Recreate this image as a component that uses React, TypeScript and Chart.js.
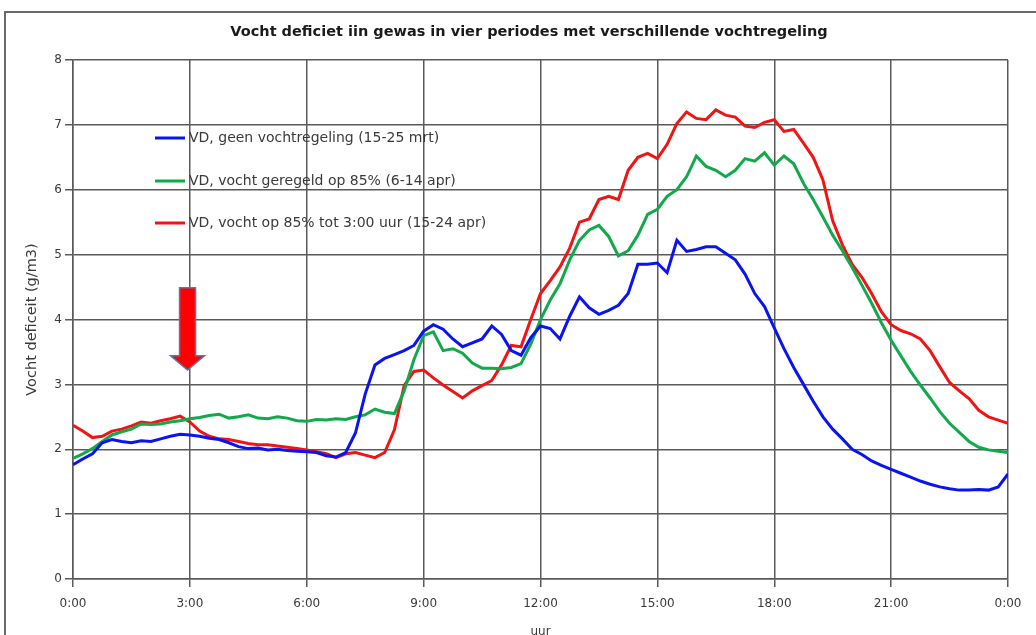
import React, { useEffect, useRef } from "react";
import { Chart, registerables } from "chart.js";

Chart.register(...registerables);

const chartTitle = "Vocht deficiet iin gewas in vier periodes met verschillende vochtregeling";
const yAxisTitle = "Vocht deficeit (g/m3)";
const xAxisTitle = "uur";
const xTickLabels = ["0:00", "3:00", "6:00", "9:00", "12:00", "15:00", "18:00", "21:00", "0:00"];
const seriesLabels = [
  "VD, geen vochtregeling (15-25 mrt)",
  "VD, vocht geregeld op 85% (6-14 apr)",
  "VD, vocht op 85% tot 3:00 uur (15-24 apr)",
];
const seriesColors = ["#0a14f0", "#12a84c", "#f01414"];

// time in hours
const hours = [
  0, 0.25, 0.5, 0.75, 1, 1.25, 1.5, 1.75, 2, 2.25, 2.5, 2.75,
  3, 3.25, 3.5, 3.75, 4, 4.25, 4.5, 4.75, 5, 5.25, 5.5, 5.75,
  6, 6.25, 6.5, 6.75, 7, 7.25, 7.5, 7.75, 8, 8.25, 8.5, 8.75,
  9, 9.25, 9.5, 9.75, 10, 10.25, 10.5, 10.75, 11, 11.25, 11.5, 11.75,
  12, 12.25, 12.5, 12.75, 13, 13.25, 13.5, 13.75, 14, 14.25, 14.5, 14.75,
  15, 15.25, 15.5, 15.75, 16, 16.25, 16.5, 16.75, 17, 17.25, 17.5, 17.75,
  18, 18.25, 18.5, 18.75, 19, 19.25, 19.5, 19.75, 20, 20.25, 20.5, 20.75,
  21, 21.25, 21.5, 21.75, 22, 22.25, 22.5, 22.75, 23, 23.25, 23.5, 23.75,
  24,
];

const blueValues = [
  1.76, 1.85, 1.93, 2.1, 2.15, 2.12, 2.1, 2.13, 2.12, 2.16, 2.2, 2.23,
  2.22, 2.2, 2.17, 2.15, 2.1, 2.04, 2.01, 2.02, 1.99, 2.0, 1.98, 1.97,
  1.96, 1.95, 1.9, 1.88, 1.95, 2.25, 2.85, 3.3, 3.4, 3.46, 3.52, 3.6,
  3.82, 3.92, 3.85, 3.7, 3.58, 3.64, 3.7, 3.9, 3.77, 3.52, 3.45, 3.72,
  3.9, 3.86, 3.7, 4.05, 4.35, 4.18, 4.08, 4.14, 4.22, 4.4, 4.85, 4.85,
  4.87, 4.72, 5.22, 5.05, 5.08, 5.12, 5.12, 5.02, 4.92, 4.7, 4.4, 4.2,
  3.87, 3.55, 3.26, 3.0, 2.74, 2.5, 2.31, 2.16, 2.0, 1.92, 1.82, 1.75,
  1.69, 1.63, 1.57, 1.51, 1.46, 1.42, 1.39, 1.37, 1.37, 1.38, 1.37, 1.42,
  1.62,
];

const greenValues = [
  1.86, 1.93, 2.01, 2.12, 2.22, 2.27, 2.31, 2.39, 2.38, 2.39, 2.42, 2.44,
  2.47, 2.49, 2.52, 2.54, 2.48, 2.5, 2.53, 2.48, 2.47, 2.5, 2.48, 2.44,
  2.43, 2.46, 2.45, 2.47, 2.46, 2.5, 2.53, 2.62, 2.57, 2.55, 2.9, 3.38,
  3.75, 3.81, 3.52, 3.55, 3.48, 3.33, 3.25, 3.25, 3.24, 3.26, 3.32, 3.62,
  4.0, 4.3, 4.55, 4.92, 5.22, 5.38, 5.45, 5.28, 4.98, 5.06, 5.3, 5.62,
  5.7, 5.9, 6.0, 6.2, 6.52, 6.36, 6.3, 6.2, 6.3, 6.48, 6.44, 6.57,
  6.38, 6.52, 6.4, 6.1, 5.85, 5.58, 5.3, 5.06, 4.8, 4.53, 4.25, 3.95,
  3.68, 3.44, 3.2, 2.99, 2.79, 2.58, 2.4, 2.26, 2.12, 2.03, 1.99, 1.97,
  1.95,
];

const redValues = [
  2.37, 2.28, 2.18, 2.2, 2.28, 2.31, 2.36, 2.42, 2.4, 2.44, 2.47, 2.51,
  2.42, 2.28, 2.2, 2.16, 2.15, 2.12, 2.09, 2.07, 2.07, 2.05, 2.03, 2.01,
  1.99, 1.96, 1.93, 1.87, 1.93, 1.95, 1.91, 1.87, 1.95, 2.3, 2.98, 3.2,
  3.22, 3.1, 2.99, 2.89, 2.79, 2.9, 2.98, 3.06, 3.3, 3.6, 3.58, 4.0,
  4.4, 4.6, 4.81, 5.1, 5.5, 5.55, 5.85, 5.9, 5.85, 6.3, 6.5, 6.56,
  6.48, 6.7, 7.02, 7.2, 7.1, 7.08, 7.23, 7.15, 7.12, 6.98, 6.96, 7.04,
  7.08, 6.9, 6.93, 6.72, 6.5, 6.15, 5.52, 5.15, 4.85, 4.65, 4.4, 4.12,
  3.92, 3.83, 3.78, 3.7, 3.52, 3.27, 3.03, 2.9, 2.78, 2.6, 2.5, 2.45,
  2.4,
];

// arrow annotation (data units): hour, top value, head start value, tip value
const arrowAnnotation = { hour: 2.94, top: 4.49, headStart: 3.44, tip: 3.22 };

const FONT = "'DejaVu Sans', Verdana, sans-serif";
const TEXT_COLOR = "#3a3a3a";
const GRID_COLOR = "#5a5a5a";

const decorPlugin = {
  id: "decor",
  beforeDraw(chart: any) {
    const ctx = chart.ctx;
    ctx.save();
    ctx.fillStyle = "#ffffff";
    ctx.fillRect(0, 0, chart.width, chart.height);
    ctx.strokeStyle = "#6a6a6a";
    ctx.lineWidth = 2;
    ctx.strokeRect(5, 12, chart.width + 20, chart.height + 20);
    ctx.fillStyle = "#1a1a1a";
    ctx.font = `bold 14.5px ${FONT}`;
    ctx.textAlign = "center";
    ctx.textBaseline = "middle";
    ctx.fillText(chartTitle, 529, 32);
    ctx.restore();
  },
  afterDraw(chart: any) {
    const ctx = chart.ctx;
    const xs = chart.scales.x;
    const ys = chart.scales.y;
    ctx.save();
    // legend inside the plot
    const rowY = [138, 181, 223];
    chart.data.datasets.forEach((ds: any, i: number) => {
      const y = rowY[i];
      ctx.strokeStyle = ds.borderColor;
      ctx.lineWidth = 3;
      ctx.beginPath();
      ctx.moveTo(155, y);
      ctx.lineTo(185, y);
      ctx.stroke();
      ctx.fillStyle = TEXT_COLOR;
      ctx.font = `14px ${FONT}`;
      ctx.textAlign = "left";
      ctx.textBaseline = "middle";
      ctx.fillText(ds.label, 189, y);
    });
    // red arrow
    const cx = xs.getPixelForValue(arrowAnnotation.hour);
    const yTop = ys.getPixelForValue(arrowAnnotation.top);
    const yHead = ys.getPixelForValue(arrowAnnotation.headStart);
    const yTip = ys.getPixelForValue(arrowAnnotation.tip);
    ctx.beginPath();
    ctx.moveTo(cx - 8, yTop);
    ctx.lineTo(cx + 8, yTop);
    ctx.lineTo(cx + 8, yHead);
    ctx.lineTo(cx + 17, yHead);
    ctx.lineTo(cx, yTip);
    ctx.lineTo(cx - 17, yHead);
    ctx.lineTo(cx - 8, yHead);
    ctx.closePath();
    ctx.fillStyle = "#ff0000";
    ctx.fill();
    ctx.strokeStyle = "#5a78a8";
    ctx.lineWidth = 1.5;
    ctx.stroke();
    ctx.restore();
  },
};

export default function App() {
  const canvasRef = useRef<HTMLCanvasElement | null>(null);

  useEffect(() => {
    if (!canvasRef.current) return;
    const mk = (vals: number[]) => hours.map((h, i) => ({ x: h, y: vals[i] }));
    const chart = new Chart(canvasRef.current, {
      type: "line",
      data: {
        datasets: [
          { label: seriesLabels[0], data: mk(blueValues), borderColor: seriesColors[0] },
          { label: seriesLabels[1], data: mk(greenValues), borderColor: seriesColors[1] },
          { label: seriesLabels[2], data: mk(redValues), borderColor: seriesColors[2] },
        ].map((d) => ({
          ...d,
          borderWidth: 3,
          pointRadius: 0,
          tension: 0,
          fill: false,
          backgroundColor: d.borderColor,
        })),
      },
      options: {
        animation: false,
        responsive: false,
        devicePixelRatio: 1,
        layout: { padding: { top: 60, right: 28, bottom: 0, left: 0 } },
        plugins: {
          legend: { display: false },
          title: { display: false },
          tooltip: { enabled: false },
        },
        scales: {
          x: {
            type: "linear",
            min: 0,
            max: 24,
            afterFit: (s: any) => {
              s.height = 56;
            },
            ticks: {
              stepSize: 3,
              autoSkip: false,
              maxRotation: 0,
              padding: 10,
              color: TEXT_COLOR,
              font: { family: FONT, size: 12 },
              callback: (v: any) => xTickLabels[Math.round(Number(v) / 3)],
            },
            grid: { color: GRID_COLOR, lineWidth: 1.5, tickLength: 8 },
            border: { color: GRID_COLOR, width: 1.5 },
            title: {
              display: true,
              text: xAxisTitle,
              color: TEXT_COLOR,
              font: { family: FONT, size: 12 },
              padding: { top: 0, bottom: -4 },
            },
          },
          y: {
            min: 0,
            max: 8,
            afterFit: (s: any) => {
              s.width = 73;
            },
            ticks: {
              stepSize: 1,
              padding: 3,
              color: TEXT_COLOR,
              font: { family: FONT, size: 12 },
            },
            grid: { color: GRID_COLOR, lineWidth: 1.5, tickLength: 8 },
            border: { color: GRID_COLOR, width: 1.5 },
            title: {
              display: true,
              text: yAxisTitle,
              color: TEXT_COLOR,
              font: { family: FONT, size: 14.5 },
              padding: { top: 24, bottom: 0 },
            },
          },
        },
      },
      plugins: [decorPlugin],
    } as any);
    return () => chart.destroy();
  }, []);

  return (
    <div style={{ position: "fixed", left: 0, top: 0, width: 1036, height: 635 }}>
      <canvas ref={canvasRef} width={1036} height={635} />
    </div>
  );
}
